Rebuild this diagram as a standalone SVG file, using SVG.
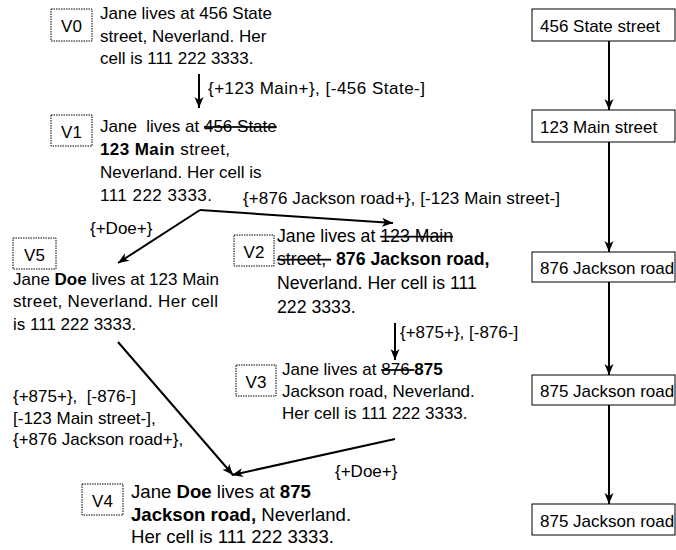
<svg xmlns="http://www.w3.org/2000/svg" width="676" height="550" viewBox="0 0 676 550">
  <defs>
    <style>
      text { font-family: "Liberation Sans", Arial, sans-serif; font-size: 17px; fill: #000; white-space: pre; }
      .b { font-weight: bold; }
      .s { text-decoration: line-through; }
      .ver { fill: #fff; stroke: #000; stroke-width: 1; stroke-dasharray: 1.5 1; }
      .box { fill: #fff; stroke: #000; stroke-width: 1; }
      .mid { text-anchor: middle; }
      .edge { fill: none; stroke: #000; stroke-width: 2; marker-end: url(#head); }
      #v2 text { font-size: 17.7px; }
      #v4 text { font-size: 18.6px; }
      #v4 text.mid { font-size: 17px; }
      #v2 text.mid { font-size: 17px; }
    </style>
    <marker id="head" markerUnits="userSpaceOnUse" markerWidth="12" markerHeight="10" refX="11" refY="5" orient="auto">
      <path d="M0,0.5 L11,5 L0,9.5 L3,5 z" fill="#000"/>
    </marker>
  </defs>

  <!-- connectors -->
  <g id="connectors">
    <line class="edge" x1="199" y1="74" x2="199" y2="108"/>
    <line class="edge" x1="200" y1="210" x2="393" y2="223"/>
    <line class="edge" x1="200" y1="210" x2="118" y2="263"/>
    <line class="edge" x1="395" y1="323" x2="395" y2="360"/>
    <line class="edge" x1="395" y1="439" x2="232" y2="475"/>
    <line class="edge" x1="118" y1="342" x2="233" y2="475"/>
    <line class="edge" x1="609" y1="41" x2="609" y2="110"/>
    <line class="edge" x1="609" y1="142" x2="609" y2="252"/>
    <line class="edge" x1="609" y1="282" x2="609" y2="375"/>
    <line class="edge" x1="609" y1="405" x2="609" y2="504"/>
  </g>

  <!-- edge labels -->
  <g id="edge-labels">
    <text x="208" y="94" textLength="217">{+123 Main+}, [-456 State-]</text>
    <text x="243" y="204" textLength="317">{+876 Jackson road+}, [-123 Main street-]</text>
    <text x="90" y="234">{+Doe+}</text>
    <text x="400" y="338">{+875+}, [-876-]</text>
    <text x="13" y="402">{+875+},  [-876-]</text>
    <text x="13" y="424">[-123 Main street-],</text>
    <text x="13" y="445">{+876 Jackson road+},</text>
    <text x="335" y="477">{+Doe+}</text>
  </g>

  <!-- versions -->
  <g id="v0">
    <rect class="ver" x="51" y="9" width="41" height="32"/>
    <text class="mid" x="71.5" y="32">V0</text>
    <text x="100" y="19">Jane lives at 456 State</text>
    <text x="100" y="42">street, Neverland. Her</text>
    <text x="100" y="64">cell is 111 222 3333.</text>
  </g>

  <g id="v1">
    <rect class="ver" x="51" y="115" width="41" height="31"/>
    <text class="mid" x="71.5" y="138">V1</text>
    <text x="100" y="132">Jane  lives at <tspan class="s">456 State</tspan></text>
    <text x="100" y="155" textLength="130"><tspan class="b">123 Main</tspan> street,</text>
    <text x="100" y="178">Neverland. Her cell is</text>
    <text x="100" y="201" textLength="112">111 222 3333.</text>
  </g>

  <g id="v5">
    <rect class="ver" x="13" y="238" width="43" height="31"/>
    <text class="mid" x="34.5" y="261">V5</text>
    <text x="13" y="285">Jane <tspan class="b">Doe</tspan> lives at 123 Main</text>
    <text x="13" y="307" textLength="205">street, Neverland. Her cell</text>
    <text x="13" y="330">is 111 222 3333.</text>
  </g>

  <g id="v2">
    <rect class="ver" x="234" y="235" width="40" height="31"/>
    <text class="mid" x="254" y="258">V2</text>
    <text x="277" y="242">Jane lives at <tspan class="s">123 Main</tspan></text>
    <text x="277" y="265"><tspan class="s">street, </tspan> <tspan class="b">876 Jackson road,</tspan></text>
    <text x="277" y="289">Neverland. Her cell is 111</text>
    <text x="277" y="313">222 3333.</text>
  </g>

  <g id="v3">
    <rect class="ver" x="236" y="365" width="40" height="31"/>
    <text class="mid" x="256" y="388">V3</text>
    <text x="282" y="375">Jane lives at <tspan class="s">876 </tspan><tspan class="b">875</tspan></text>
    <text x="282" y="397">Jackson road, Neverland.</text>
    <text x="282" y="419">Her cell is 111 222 3333.</text>
  </g>

  <g id="v4">
    <rect class="ver" x="82" y="484" width="41" height="31"/>
    <text class="mid" x="102.5" y="507">V4</text>
    <text x="131" y="498">Jane <tspan class="b">Doe</tspan> lives at <tspan class="b">875</tspan></text>
    <text x="131" y="521"><tspan class="b">Jackson road,</tspan> Neverland.</text>
    <text x="131" y="543">Her cell is 111 222 3333.</text>
  </g>

  <!-- address history -->
  <g id="a0">
    <rect class="box" x="532" y="9" width="143" height="32"/>
    <text x="540" y="32">456 State street</text>
  </g>
  <g id="a1">
    <rect class="box" x="532" y="110" width="143" height="32"/>
    <text x="540" y="133">123 Main street</text>
  </g>
  <g id="a2">
    <rect class="box" x="532" y="252" width="143" height="30"/>
    <text x="540" y="274">876 Jackson road</text>
  </g>
  <g id="a3">
    <rect class="box" x="532" y="375" width="143" height="30"/>
    <text x="540" y="397">875 Jackson road</text>
  </g>
  <g id="a4">
    <rect class="box" x="532" y="504" width="143" height="31"/>
    <text x="540" y="527">875 Jackson road</text>
  </g>
</svg>
